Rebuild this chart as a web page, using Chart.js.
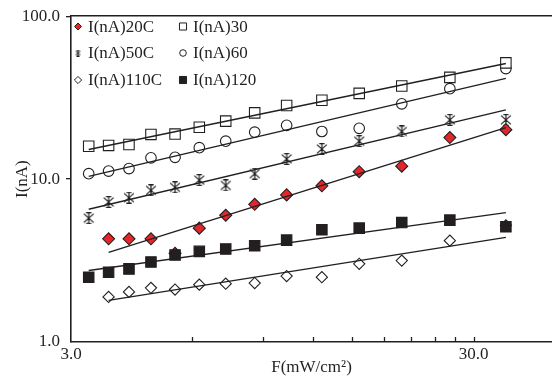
<!DOCTYPE html>
<html>
<head>
<meta charset="utf-8">
<script src="https://cdn.jsdelivr.net/npm/chart.js"></script>
<style>
  html, body { margin: 0; padding: 0; background: #fff; }
  #wrap { width: 552px; height: 380px; }
</style>
</head>
<body>
<div id="wrap"><canvas id="chart" width="552" height="380"></canvas></div>
<script>
// light intensity F (mW/cm2) of each measured column
const flux = [3.32, 3.72, 4.18, 4.74, 5.44, 6.25, 7.27, 8.58, 10.3, 12.6, 15.6, 19.9, 26.2, 36.1];

// photocurrent I (nA) per curve, null where no point was drawn
const i20C  = [null, 4.3, 4.3, 4.3, 3.5, 5.0, 6.0, 7.0, 8.0, 9.1, 11.1, 12.0, 18.0, 20.1];
const i30   = [15.9, 16.1, 16.3, 18.8, 18.9, 20.8, 22.7, 25.5, 28.3, 30.5, 33.6, 37.3, 42.1, 51.7];
const i50C  = [5.76, 7.24, 7.69, 8.53, 8.9, 9.86, 9.15, 10.8, 13.3, 15.3, 17.1, 19.6, 23.1, 23.1];
const i60   = [10.8, 11.2, 11.6, 13.5, 13.6, 15.6, 17.1, 19.4, 21.4, 19.6, 20.5, 29.0, 35.9, 47.7];
const i110C = [null, 1.89, 2.03, 2.15, 2.1, 2.25, 2.28, 2.3, 2.54, 2.5, 3.02, 3.16, 4.19, 5.2];
const i120  = [2.5, 2.68, 2.81, 3.1, 3.42, 3.6, 3.72, 3.9, 4.22, 4.89, 5.0, 5.41, 5.6, 5.1];

// straight power-law fits: [F, I] at start and end
const fit20C  = [[3.72, 3.55], [36.1, 20.7]];
const fit30   = [[3.32, 15.2], [36.1, 51.2]];
const fit50C  = [[3.32, 6.53], [36.1, 26.6]];
const fit60   = [[3.32, 10.4], [36.1, 41.5]];
const fit110C = [[3.72, 1.80], [36.1, 4.39]];
const fit120  = [[3.32, 2.75], [36.1, 6.23]];

// axis ticks
const xTickValues = [3, 6, 9, 12, 15, 18, 21, 24, 27, 30];
const xTickLabels = ['3.0', '', '', '', '', '', '', '', '', '30.0'];
const yTickValues = [1, 10, 100];
const yTickLabels = ['1.0', '10.0', '100.0'];

const INK = '#231f20';
const RED = '#e3262b';
const FONT = 'Liberation Serif';

// asterisk marker: X with a vertical stroke and short caps
function makeAsterisk(size, lw) {
  const c = document.createElement('canvas');
  c.width = size; c.height = size;
  const g = c.getContext('2d');
  g.strokeStyle = INK;
  g.lineWidth = lw;
  const m = lw / 2, e = size - lw / 2, h = size / 2, cap = size * 0.22;
  g.beginPath();
  g.moveTo(h, 0); g.lineTo(h, size);
  g.moveTo(m + 0.5, m + 1); g.lineTo(e - 0.5, e - 1);
  g.moveTo(e - 0.5, m + 1); g.lineTo(m + 0.5, e - 1);
  g.moveTo(h - cap, m); g.lineTo(h + cap, m);
  g.moveTo(h - cap, e); g.lineTo(h + cap, e);
  g.stroke();
  return c;
}
const starBig = makeAsterisk(12, 1.2);
const starSmall = makeAsterisk(7, 1);

function pts(vals) {
  return flux.map((f, i) => ({ x: f, y: vals[i] })).filter(p => p.y !== null);
}
function fitPts(fit) {
  return fit.map(p => ({ x: p[0], y: p[1] }));
}

// marker styles per curve (z: lower is drawn on top)
const series = [
  { label: 'I(nA)20C',  vals: i20C,  fit: fit20C,  style: 'rectRot', r: 6,   fill: RED,   legR: 3.5, z: 3 },
  { label: 'I(nA)30',   vals: i30,   fit: fit30,   style: 'rect',    r: 7.4, fill: '#fff', legR: 5, z: 3 },
  { label: 'I(nA)50C',  vals: i50C,  fit: fit50C,  style: starBig,   r: 6,   fill: INK,   legStyle: starSmall, z: 3 },
  { label: 'I(nA)60',   vals: i60,   fit: fit60,   style: 'circle',  r: 5.3, fill: '#fff', legR: 3.3, z: 3 },
  { label: 'I(nA)110C', vals: i110C, fit: fit110C, style: 'rectRot', r: 5.6, fill: '#fff', legR: 3.6, z: 3 },
  { label: 'I(nA)120',  vals: i120,  fit: fit120,  style: 'rect',    r: 7.4, fill: INK,   legR: 5, z: 2 }
];

const datasets = [];
series.forEach(s => {
  datasets.push({
    label: s.label,
    data: pts(s.vals),
    pointStyle: s.style,
    pointRadius: s.r,
    pointBackgroundColor: s.fill,
    pointBorderColor: INK,
    pointBorderWidth: 1.1,
    showLine: false,
    order: s.z
  });
});
series.forEach(s => {
  datasets.push({
    label: s.label + ' fit',
    data: fitPts(s.fit),
    showLine: true,
    borderColor: INK,
    borderWidth: 1.4,
    pointRadius: 0,
    order: 1
  });
});

// legend inside the plot, two columns
const legendBox = {
  id: 'legendBox',
  afterDatasetsDraw(chart) {
    const ctx = chart.ctx;
    const markX = [78, 183], textX = [88, 193], rowY = [26.5, 53, 80];
    ctx.save();
    ctx.font = '17px "' + FONT + '"';
    ctx.textBaseline = 'middle';
    ctx.textAlign = 'left';
    series.forEach((s, i) => {
      const col = i % 2, row = Math.floor(i / 2);
      const x = markX[col], y = rowY[row];
      ctx.fillStyle = s.fill;
      ctx.strokeStyle = INK;
      ctx.lineWidth = 1;
      Chart.helpers.drawPoint(ctx, {
        pointStyle: s.legStyle || s.style,
        radius: s.legR || 3.5,
        borderWidth: 1,
        rotation: 0
      }, x, y);
      ctx.fillStyle = INK;
      ctx.fillText(s.label, textX[col], y + 1);
    });
    ctx.restore();
  }
};

// small tick marks pointing into the plot on the x axis
const innerTicks = {
  id: 'innerTicks',
  afterDraw(chart) {
    const ctx = chart.ctx, xs = chart.scales.x, b = chart.chartArea.bottom;
    ctx.save();
    ctx.strokeStyle = INK;
    ctx.lineWidth = 1.3;
    xTickValues.slice(1).forEach(v => {
      const px = Math.round(xs.getPixelForValue(v)) + 0.5;
      ctx.beginPath();
      ctx.moveTo(px, b);
      ctx.lineTo(px, b - 5);
      ctx.stroke();
    });
    ctx.restore();
  }
};

new Chart(document.getElementById('chart'), {
  type: 'scatter',
  data: { datasets: datasets },
  options: {
    responsive: false,
    animation: false,
    events: [],
    layout: { padding: 0, autoPadding: false },
    plugins: {
      legend: { display: false },
      tooltip: { enabled: false }
    },
    scales: {
      x: {
        type: 'logarithmic',
        position: 'bottom',
        min: 3,
        max: 47,
        afterBuildTicks: s => { s.ticks = xTickValues.map(v => ({ value: v })); },
        afterFit: s => { s.height = 38; s.paddingLeft = 0; s.paddingRight = 0; },
        ticks: {
          autoSkip: false,
          maxRotation: 0,
          padding: 2,
          color: INK,
          font: { family: FONT, size: 17 },
          callback: v => xTickLabels[xTickValues.indexOf(v)] || ''
        },
        grid: { drawOnChartArea: false, drawTicks: false },
        border: { display: true, color: INK, width: 1.6 },
        title: {
          display: true,
          text: 'F(mW/cm²)',
          color: INK,
          font: { family: FONT, size: 17 },
          padding: { top: 0, bottom: 2 }
        }
      },
      top: {
        type: 'logarithmic',
        position: 'top',
        min: 3,
        max: 47,
        afterFit: s => { s.height = 14; s.paddingLeft = 0; s.paddingRight = 0; },
        ticks: { display: false },
        grid: { drawOnChartArea: false, drawTicks: false },
        border: { display: true, color: INK, width: 1.6 }
      },
      y: {
        type: 'logarithmic',
        position: 'left',
        min: 1,
        max: 100,
        afterBuildTicks: s => { s.ticks = yTickValues.map(v => ({ value: v })); },
        afterFit: s => { s.width = 71; },
        ticks: {
          padding: 6,
          color: INK,
          font: { family: FONT, size: 17 },
          callback: v => yTickLabels[yTickValues.indexOf(v)] || ''
        },
        grid: {
          drawOnChartArea: false,
          drawTicks: true,
          tickLength: 5,
          lineWidth: 1.3,
          color: c => (c.tick && c.tick.value === 1) ? 'rgba(0,0,0,0)' : INK
        },
        border: { display: true, color: INK, width: 1.6 },
        title: {
          display: true,
          text: 'I(nA)',
          color: INK,
          font: { family: FONT, size: 17 },
          padding: { top: 12, bottom: 0 }
        }
      }
    }
  },
  plugins: [legendBox, innerTicks]
});
</script>
</body>
</html>
